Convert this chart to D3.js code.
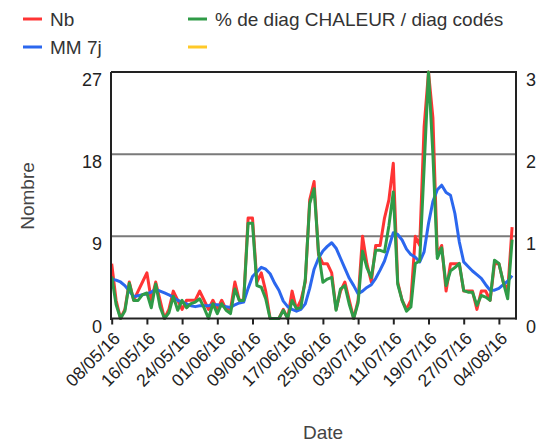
<!DOCTYPE html>
<html>
<head>
<meta charset="utf-8">
<script src="https://cdn.jsdelivr.net/npm/d3@7"></script>
<style>
  body { margin: 0; background: #fff; }
  svg { display: block; font-family: Arial, "Liberation Sans", sans-serif; }
</style>
</head>
<body>
<svg id="chart" width="546" height="443"></svg>
<script>
// Daily series, 8 May 2016 to 7 August 2016
const firstDay = new Date(Date.UTC(2016, 4, 8));
const axisEnd = new Date(Date.UTC(2016, 7, 8));
const dates = d3.utcDay.range(firstDay, axisEnd);

// Daily count of heat-related diagnoses
const nb = [6,2,0,1,4,2,3,4,5,2, 4,2,0,1,3,2,1,2,2,2, 3,2,1,2,1,2,1,1,4,2,
            2,11,11,4,5,3,0,0,0,1, 0,3,1,2,4,13,15,7,6,6, 5,1,3,4,2,0,2,9,6,4,
            8,8,11,13,17,4,2,1,2,9, 8,21,27,22,7,8,3,6,6,6, 3,3,3,1,3,3,2,6,6,4,
            3,10];

// 7-day moving average of the count
const mm7j = [4.3,4.2,4.0,3.6,3.0,2.4,2.5,2.6,2.7,2.9, 3.2,3.0,2.8,2.6,2.3,2.0,1.8,1.6,1.4,1.3,
              1.4,1.4,1.4,1.5,1.5,1.4,1.3,1.2,1.5,1.7, 1.8,3.3,4.6,5.1,5.6,5.4,4.9,3.9,3.1,1.9,
              1.3,1.0,0.8,1.0,1.6,3.3,5.4,6.6,7.4,7.9, 8.3,7.7,6.6,5.5,4.4,3.6,2.7,3.0,3.4,3.7,
              4.4,5.3,6.3,7.8,9.4,9.2,8.6,7.6,7.0,6.7, 6.2,7.3,10.4,12.8,14.1,14.6,13.8,13.5,11.5,8.4,
              6.2,5.7,5.2,4.8,4.4,3.7,3.1,3.1,3.3,3.7, 4.1,4.7];

// Share of heat diagnoses among coded diagnoses (right axis, %)
const pctChaleur = [0.51,0.17,0,0.09,0.43,0.22,0.22,0.29,0.31,0.13, 0.42,0.14,0,0.07,0.27,0.10,0.22,0.13,0.18,0.20,
                    0.24,0.13,0,0.18,0.06,0.18,0.10,0.06,0.36,0.22, 0.22,1.16,1.16,0.40,0.38,0.24,0,0,0,0.10,
                    0,0.22,0.12,0.13,0.48,1.40,1.58,0.81,0.44,0.48, 0.50,0.10,0.36,0.40,0.17,0,0.19,0.82,0.62,0.50,
                    0.83,0.83,0.81,1.13,1.54,0.42,0.22,0.09,0.14,0.67, 0.70,1.83,3.00,2.00,0.73,0.86,0.40,0.58,0.62,0.67,
                    0.34,0.32,0.32,0.16,0.28,0.26,0.22,0.71,0.67,0.44, 0.24,0.96];

// Fourth legend entry, without any data
const extraSeries = [];

const seriesNames = ["Nb", "MM 7j", "% de diag CHALEUR / diag codés", ""];
const seriesColors = ["#ff3434", "#2b67ee", "#2f9b47", "#ffc928"];

const leftTicks = [0, 9, 18, 27];
const rightTicks = [0, 1, 2, 3];
const xTickLabels = ["08/05/16","16/05/16","24/05/16","01/06/16","09/06/16","17/06/16",
                     "25/06/16","03/07/16","11/07/16","19/07/16","27/07/16","04/08/16"];

const svg = d3.select("#chart");
const plot = { left: 111, right: 516, top: 72, bottom: 318.5 };

const x = d3.scaleUtc().domain([firstDay, axisEnd]).range([plot.left + 0.7, plot.right + 0.5]);
const yL = d3.scaleLinear().domain([0, 27]).range([plot.bottom, plot.top]);
const yR = d3.scaleLinear().domain([0, 3]).range([plot.bottom, plot.top]);

// Horizontal gridlines
svg.append("g")
  .selectAll("line")
  .data(leftTicks.filter(t => t > 0 && t < 27))
  .join("line")
  .attr("x1", plot.left).attr("x2", plot.right)
  .attr("y1", d => yL(d)).attr("y2", d => yL(d))
  .attr("stroke", "#7a7a7a").attr("stroke-width", 2);

// Top frame line
svg.append("line")
  .attr("x1", plot.left).attr("x2", plot.right)
  .attr("y1", yL(27)).attr("y2", yL(27))
  .attr("stroke", "#222").attr("stroke-width", 2);

// Series lines
const lineL = d3.line().x((d, i) => x(dates[i])).y(d => yL(d));
const lineR = d3.line().x((d, i) => x(dates[i])).y(d => yR(d));

const drawn = [
  { values: nb, gen: lineL, color: seriesColors[0] },
  { values: mm7j, gen: lineL, color: seriesColors[1] },
  { values: pctChaleur, gen: lineR, color: seriesColors[2] },
  { values: extraSeries, gen: lineR, color: seriesColors[3] }
];
drawn.forEach(s => {
  if (!s.values.length) return;
  svg.append("path")
    .datum(s.values)
    .attr("fill", "none")
    .attr("stroke", s.color)
    .attr("stroke-width", 3)
    .attr("stroke-linejoin", "round")
    .attr("d", s.gen);
});

// Left axis
const gL = svg.append("g")
  .attr("transform", `translate(${plot.left},0)`)
  .call(d3.axisLeft(yL).tickValues(leftTicks).tickSize(0).tickPadding(9).tickFormat(d3.format("d")));
gL.select(".domain").attr("stroke", "#222").attr("stroke-width", 2)
  .attr("d", `M0,${plot.top}V${plot.bottom + 1.5}`);
gL.selectAll("text").attr("font-size", 18).attr("fill", "#222").attr("dy", "0.75em")
  .attr("font-family", "Arial, 'Liberation Sans', sans-serif");

// Right axis
const gR = svg.append("g")
  .attr("transform", `translate(${plot.right},0)`)
  .call(d3.axisRight(yR).tickValues(rightTicks).tickSize(0).tickPadding(10).tickFormat(d3.format("d")));
gR.select(".domain").attr("stroke", "#222").attr("stroke-width", 2)
  .attr("d", `M0,${plot.top - 1}V${plot.bottom + 1}`);
gR.selectAll("text").attr("font-size", 18).attr("fill", "#222").attr("dy", "0.75em")
  .attr("font-family", "Arial, 'Liberation Sans', sans-serif");

// Bottom axis
const parseLabel = d3.utcParse("%d/%m/%y");
const xTickDates = xTickLabels.map(parseLabel);
const gB = svg.append("g")
  .attr("transform", `translate(0,${plot.bottom})`)
  .call(d3.axisBottom(x).tickValues(xTickDates).tickFormat(d3.utcFormat("%d/%m/%y"))
        .tickSizeInner(6).tickSizeOuter(0));
gB.select(".domain").attr("stroke", "#222").attr("stroke-width", 2)
  .attr("d", `M${plot.left - 1},0H${plot.right + 1}`);
gB.selectAll(".tick line").attr("stroke", "#222").attr("stroke-width", 2);
gB.selectAll("text")
  .attr("font-size", 17.5).attr("fill", "#222")
  .attr("font-family", "Arial, 'Liberation Sans', sans-serif")
  .attr("text-anchor", "end")
  .attr("x", 0).attr("y", 0).attr("dy", null)
  .attr("transform", "translate(9,21) rotate(-45)");

// Axis titles
svg.append("text")
  .attr("transform", "translate(34,196) rotate(-90)")
  .attr("text-anchor", "middle")
  .attr("font-size", 19).attr("fill", "#444")
  .text("Nombre");
svg.append("text")
  .attr("x", 323).attr("y", 439)
  .attr("text-anchor", "middle")
  .attr("font-size", 19).attr("fill", "#444")
  .text("Date");

// Legend, two columns
const legendPos = [
  { x: 23, y: 19 }, { x: 23, y: 47 }, { x: 188, y: 19 }, { x: 188, y: 47 }
];
const legend = svg.append("g");
seriesNames.forEach((name, i) => {
  const p = legendPos[i];
  legend.append("line")
    .attr("x1", p.x).attr("x2", p.x + 19)
    .attr("y1", p.y).attr("y2", p.y)
    .attr("stroke", seriesColors[i]).attr("stroke-width", 3);
  legend.append("text")
    .attr("x", p.x + 27).attr("y", p.y + 7)
    .attr("font-size", 19).attr("fill", "#333")
    .text(name);
});
</script>
</body>
</html>
